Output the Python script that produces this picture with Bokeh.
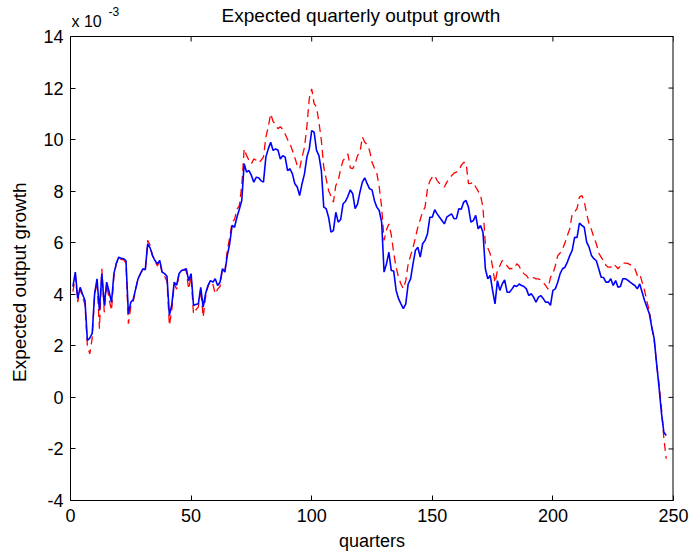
import math
from bokeh.plotting import figure
from bokeh.models import Range1d, Label, FixedTicker
from bokeh.embed import file_html
from bokeh.resources import INLINE

# Values in units of 1e-3
blue = [4.3, 4.86, 3.83, 4.27, 4.0, 3.76, 2.21, 2.3, 2.48, 4.02,
        4.6, 3.37, 4.8, 3.57, 4.47, 4.1, 3.69, 4.8, 5.2, 5.44,
        5.4, 5.38, 5.3, 3.24, 3.69, 3.8, 4.2, 4.6, 4.8, 4.99,
        4.95, 5.96, 5.8, 5.5, 5.31, 5.18, 5.31, 4.86, 4.8, 4.7,
        3.18, 3.6, 4.47, 4.35, 4.8, 4.92, 4.95, 4.99, 4.53, 4.8,
        3.57, 3.6, 3.63, 4.27, 3.5, 4.02, 4.34, 4.53, 4.47, 4.6,
        4.34, 4.47, 4.99, 4.86, 5.5, 5.96, 6.67, 6.6, 6.99, 7.3,
        7.64, 9.06, 8.74, 8.8, 8.61, 8.35, 8.54, 8.52, 8.4, 8.35,
        9.32, 9.64, 9.9, 9.58, 9.64, 9.6, 9.25, 9.38, 9.32, 8.8,
        8.87, 8.67, 8.29, 8.16, 7.83, 8.29, 8.67, 9.32, 9.64, 10.35,
        10.29, 9.58, 9.38, 8.8, 7.38, 7.32, 6.99, 6.41, 6.47, 7.18,
        6.8, 6.9, 7.51, 7.6, 7.8, 8.05, 7.9, 7.32, 7.5, 7.96,
        8.35, 8.52, 8.29, 8.09, 8.05, 7.64, 7.38, 7.25, 6.8, 4.86,
        5.18, 5.63, 4.92, 4.9, 4.15, 3.83, 3.63, 3.44, 3.63, 4.4,
        4.6, 5.18, 5.7, 5.83, 5.44, 5.96, 6.09, 6.35, 6.99, 6.99,
        7.28, 7.12, 6.99, 6.86, 6.73, 6.99, 7.06, 7.12, 6.93, 6.94,
        7.32, 7.3, 7.57, 7.64, 7.38, 6.8, 6.86, 7.06, 6.54, 6.67,
        6.41, 4.99, 4.6, 4.73, 4.15, 3.63, 4.53, 4.15, 4.4, 4.56,
        4.08, 4.08, 4.2, 4.34, 4.3, 4.4, 4.34, 4.3, 4.21, 3.95, 4.02,
        3.89, 3.69, 3.89, 3.95, 3.83, 3.69, 3.7, 3.57, 4.15, 4.21,
        4.47, 4.8, 4.99, 5.05, 5.25, 5.5, 5.7, 6.21, 6.2, 6.76,
        6.67, 6.6, 6.02, 5.83, 5.5, 5.38, 5.3, 4.99, 4.66, 4.65,
        4.47, 4.47, 4.6, 4.34, 4.53, 4.27, 4.3, 4.6, 4.6, 4.55,
        4.47, 4.4, 4.34, 4.21, 4.4, 4.08, 3.76, 3.5, 3.24, 2.72,
        2.27, 1.3, 0.4, -0.6, -1.35, -1.48]

red = [4.1, 4.7, 3.7, 4.2, 3.9, 3.6, 2.0, 1.69, 2.3, 4.0,
       4.5, 2.66, 4.99, 3.3, 4.4, 3.8, 3.37, 4.7, 5.2, 5.4,
       5.35, 5.35, 5.2, 2.86, 3.5, 3.7, 4.2, 4.6, 4.8, 4.95,
       4.9, 6.09, 5.9, 5.5, 5.3, 5.1, 5.3, 4.8, 4.7, 4.5,
       2.79, 3.4, 4.4, 4.2, 4.8, 4.9, 4.95, 4.9, 4.2, 4.7,
       3.24, 3.4, 3.5, 4.2, 3.11, 3.9, 4.3, 4.5, 4.4, 4.02,
       4.2, 4.3, 4.99, 4.9, 5.7, 6.2, 6.8, 6.9, 7.3, 7.44,
       8.2, 9.64, 9.38, 9.2, 9.06, 9.25, 9.2, 9.1, 9.2, 9.32,
       10.1, 10.5, 11.0, 10.7, 10.6, 10.42, 10.5, 10.4, 10.22, 10.0,
       9.84, 9.58, 9.3, 9.0, 8.87, 9.32, 9.7, 10.5, 11.6, 11.97,
       11.4, 11.26, 10.68, 9.97, 8.93, 8.48, 8.03, 7.8, 7.57, 8.22,
       8.41, 8.87, 9.19, 9.3, 9.45, 8.9, 8.87, 9.06, 9.38, 9.5,
       10.1, 9.9, 9.8, 9.58, 9.12, 8.9, 8.7, 8.16, 7.38, 6.09,
       6.5, 6.73, 6.3, 5.6, 5.05, 4.66, 4.4, 4.21, 4.53, 5.18,
       5.5, 5.8, 6.2, 6.6, 6.9, 7.2, 7.38, 8.09, 8.4, 8.55,
       8.61, 8.41, 8.3, 8.2, 8.16, 8.35, 8.48, 8.6, 8.7, 8.74,
       8.8, 9.0, 9.12, 9.1, 8.29, 8.3, 8.35, 8.16, 8.0, 7.83,
       7.38, 5.96, 5.8, 5.57, 5.05, 4.45, 4.92, 5.1, 5.31, 5.2,
       5.1, 4.99, 5.0, 5.0, 5.18, 5.1, 4.9, 4.8, 4.73, 4.6, 4.6,
       4.65, 4.6, 4.6, 4.55, 4.45, 4.34, 4.2, 4.66, 4.8, 5.1,
       5.5, 5.6, 5.76, 6.0, 6.28, 6.54, 7.12, 7.2, 7.32, 7.77,
       7.83, 7.6, 7.12, 6.73, 6.5, 6.21, 5.96, 5.6, 5.44, 5.3,
       5.12, 5.05, 5.05, 5.18, 5.1, 4.99, 5.1, 5.21, 5.21, 5.2,
       5.15, 5.1, 4.99, 4.73, 4.8, 4.47, 4.15, 3.7, 3.37, 2.72,
       2.21, 1.3, 0.52, -0.4, -1.6, -2.38]

quarters_blue = list(range(1, len(blue) + 1))
quarters_red = list(range(1, len(red) + 1))

x_ticks = [0, 50, 100, 150, 200, 250]
y_ticks = [-4, -2, 0, 2, 4, 6, 8, 10, 12, 14]
y_tick_labels = {-4: "-4", -2: "-2"}
X_MIN, X_MAX = 0, 250
Y_MIN, Y_MAX = -4, 14

# layout in pixels
W, H = 691, 554
LEFT, RIGHT, BOTTOM = 70, 18, 54
BOX_TOP = 36                      # top edge of the axes box, px from the top
BOX_H = H - BOTTOM - BOX_TOP      # 464 px
# the frame reaches the top of the canvas, so the texts above the box are drawn inside it
Y_TOP = Y_MAX + (Y_MAX - Y_MIN) * BOX_TOP / BOX_H

FONT = "Liberation Sans"
NBSP = "\u00a0"

p = figure(width=W, height=H, output_backend="svg", toolbar_location=None,
           x_range=Range1d(X_MIN, X_MAX), y_range=Range1d(Y_MIN, Y_TOP),
           min_border_left=LEFT, min_border_right=RIGHT, min_border_top=0,
           min_border_bottom=BOTTOM, title=None)
p.background_fill_color = "white"
p.border_fill_color = "white"
p.outline_line_color = None
p.grid.visible = False

for ax in (p.xaxis[0], p.yaxis[0]):
    ax.major_tick_in = 5
    ax.major_tick_out = 0
    ax.minor_tick_line_color = None
    ax.axis_line_color = "black"
    ax.major_tick_line_color = "black"
    ax.major_label_text_font = FONT
    ax.major_label_text_font_size = "18px"
    ax.major_label_text_color = "black"
    ax.axis_label_text_font = FONT
    ax.axis_label_text_font_size = "18px"
    ax.axis_label_text_font_style = "normal"
    ax.axis_label_text_color = "black"

p.xaxis.ticker = FixedTicker(ticks=x_ticks)
p.yaxis.ticker = FixedTicker(ticks=y_ticks)
p.yaxis.bounds = (Y_MIN, Y_MAX)
p.yaxis.major_label_overrides = y_tick_labels
p.xaxis.axis_label = "quarters"
# trailing no-break spaces centre the visible words on the box rather than the taller frame
p.yaxis.axis_label = "Expected output growth" + NBSP * 12
p.yaxis.axis_label_text_font_size = "19px"
p.xaxis.major_label_standoff = 8
p.xaxis.axis_label_standoff = 6
p.yaxis.major_label_standoff = 7
p.yaxis.axis_label_standoff = 10

# top and right edges of the box
p.line([X_MIN, X_MAX], [Y_MAX, Y_MAX], line_color="black", line_width=1)
p.line([X_MAX, X_MAX], [Y_MIN, Y_MAX], line_color="black", line_width=2)

# inward ticks on the top and right edges
p.ray(x=x_ticks, y=[Y_MAX] * len(x_ticks), length=5, length_units="screen",
      angle=-math.pi / 2, line_color="black", line_width=1)
p.ray(x=[X_MAX] * len(y_ticks), y=y_ticks, length=5, length_units="screen",
      angle=math.pi, line_color="black", line_width=1)

p.line(quarters_red, red, line_color="#ff0000", line_width=1.3, line_dash="8 5")
p.line(quarters_blue, blue, line_color="#0000ff", line_width=1.6)

p.add_layout(Label(x=(X_MIN + X_MAX) / 2, y=Y_MAX, x_offset=-11, y_offset=21,
                   text="Expected quarterly output growth", text_font=FONT,
                   text_font_size="19px", text_color="black",
                   text_align="center", text_baseline="middle"))
p.add_layout(Label(x=X_MIN, y=Y_MAX, x_offset=1, y_offset=15, text="x 10",
                   text_font=FONT, text_font_size="16px", text_color="black",
                   text_align="left", text_baseline="middle"))
p.add_layout(Label(x=X_MIN, y=Y_MAX, x_offset=38, y_offset=25, text="-3",
                   text_font=FONT, text_font_size="12px", text_color="black",
                   text_align="left", text_baseline="middle"))

open("out.html", "w").write(file_html(p, INLINE))
